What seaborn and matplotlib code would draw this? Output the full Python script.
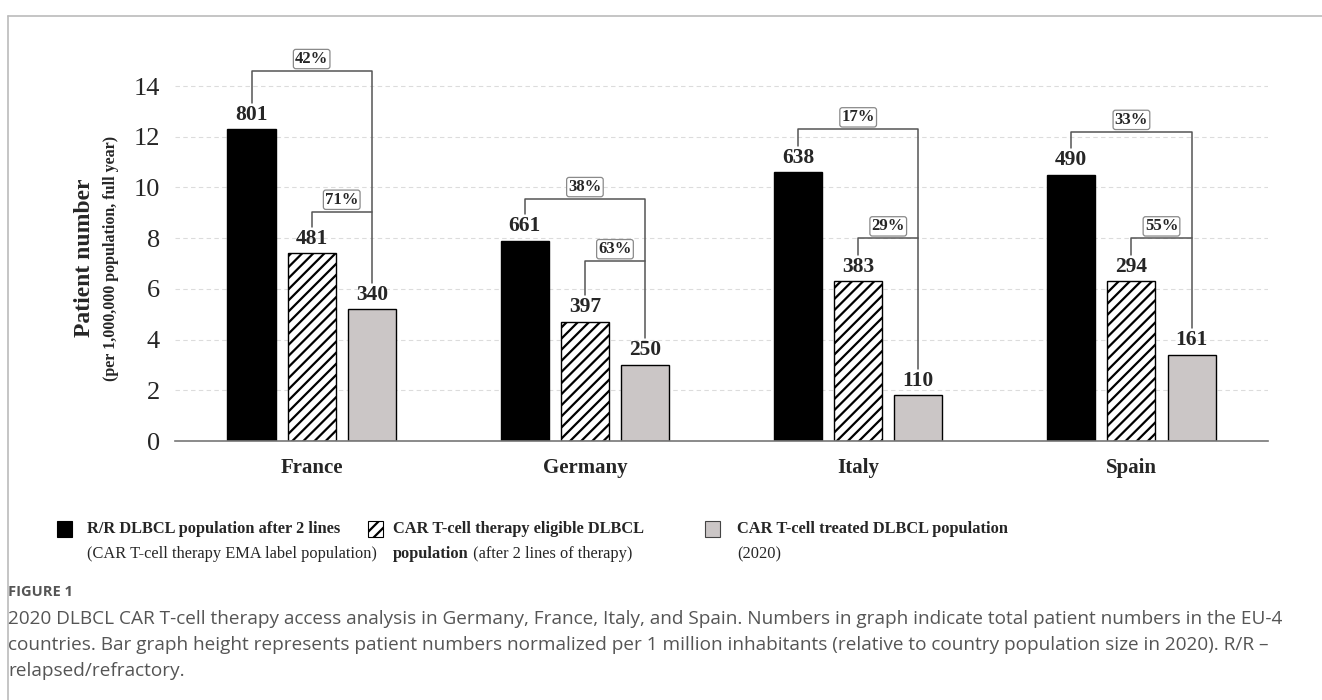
import pandas as pd
import seaborn as sns
import matplotlib.pyplot as plt
from matplotlib.patches import Rectangle
from matplotlib.lines import Line2D

# Values (bar height = patients per 1,000,000 inhabitants)
countries = ["France", "Germany", "Italy", "Spain"]
groups = ["R/R DLBCL after 2 lines", "CAR T-cell eligible", "CAR T-cell treated"]
rr_per_million = [12.3, 7.9, 10.6, 10.5]
eligible_per_million = [7.4, 4.7, 6.3, 6.3]
treated_per_million = [5.2, 3.0, 1.8, 3.4]

# Total patient numbers printed above bars
rr_total = [801, 661, 638, 490]
eligible_total = [481, 397, 383, 294]
treated_total = [340, 250, 110, 161]

# Bracket percentages
pct_treated_of_rr = [42, 38, 17, 33]
pct_treated_of_eligible = [71, 63, 29, 55]

yticks = [0, 2, 4, 6, 8, 10, 12, 14]

df = pd.DataFrame({
    "country": countries * 3,
    "group": [groups[0]] * 4 + [groups[1]] * 4 + [groups[2]] * 4,
    "value": rr_per_million + eligible_per_million + treated_per_million,
})
totals = [rr_total, eligible_total, treated_total]

sns.set_style("white")
plt.rcParams["font.family"] = ["Liberation Serif", "DejaVu Serif"]
plt.rcParams["hatch.linewidth"] = 1.6

fig = plt.figure(figsize=(13.22, 7.0), dpi=100)
ax = fig.add_axes([0.1324, 0.37, 0.8268, 0.5614])

sns.barplot(data=df, x="country", y="value", hue="group", order=countries,
            hue_order=groups, palette=["black", "white", "#cbc6c6"],
            saturation=1, width=0.66, gap=0.2, edgecolor="black",
            linewidth=1.0, legend=False, ax=ax)

for bar in ax.containers[1]:
    bar.set_hatch("///")

ax.set_xlim(-0.5, 3.5)
ax.set_ylim(0, 15.5)
ax.set_yticks(yticks)
ax.set_yticklabels([str(t) for t in yticks], fontsize=19)
ax.set_xlabel("")
ax.set_ylabel("")
ax.tick_params(axis="x", length=0, pad=12, labelsize=15)
ax.tick_params(axis="y", length=0, pad=11)
for lab in ax.get_xticklabels():
    lab.set_fontweight("bold")

for s in ["top", "right", "left"]:
    ax.spines[s].set_visible(False)
ax.spines["bottom"].set_color("#777777")
ax.spines["bottom"].set_linewidth(1.2)
ax.set_axisbelow(True)
for t in yticks[1:]:
    ax.axhline(t, color="#dcdcdc", lw=0.8, ls=(0, (4, 3)), zorder=0)

# value labels above bars
centers = []
heights = []
for k, cont in enumerate(ax.containers):
    cx = [p.get_x() + p.get_width() / 2 for p in cont]
    hh = [p.get_height() for p in cont]
    centers.append(cx)
    heights.append(hh)
    for x, h, n in zip(cx, hh, totals[k]):
        ax.text(x, h + 0.18, str(n), ha="center", va="bottom",
                fontsize=15.5, fontweight="bold")

# brackets (level above the taller bar of each pair)
outer_lift = [2.3, 1.65, 1.7, 1.7]
inner_lift = [1.65, 2.4, 1.7, 1.7]
box = dict(boxstyle="round,pad=0.1,rounding_size=0.15", fc="white",
           ec="#8a8a8a", lw=0.9)
for i in range(len(countries)):
    xa, xb, xc = centers[0][i], centers[1][i], centers[2][i]
    ha, hb, hc = heights[0][i], heights[1][i], heights[2][i]
    yo = ha + outer_lift[i]
    yi = hb + inner_lift[i]
    ax.plot([xa, xa, xc, xc], [ha + 1.05, yo, yo, hc + 1.05], color="#555555",
            lw=1.1, clip_on=False, zorder=3)
    ax.plot([xb, xb, xc], [hb + 1.05, yi, yi], color="#555555", lw=1.1,
            clip_on=False, zorder=3)
    ax.text((xa + xc) / 2, yo + 0.15, f"{pct_treated_of_rr[i]}%", ha="center",
            va="bottom", fontsize=12, fontweight="bold", bbox=box, zorder=4)
    ax.text((xb + xc) / 2, yi + 0.15, f"{pct_treated_of_eligible[i]}%",
            ha="center", va="bottom", fontsize=12, fontweight="bold",
            bbox=box, zorder=4)

# y axis title
fig.text(85 / 1322, 1 - 258 / 700, "Patient number", rotation=90,
         ha="center", va="center", fontsize=17, fontweight="bold")
fig.text(111 / 1322, 1 - 258 / 700, "(per 1,000,000 population, full year)",
         rotation=90, ha="center", va="center", fontsize=11.5,
         fontweight="bold")

# legend (built by hand to mix bold and regular text)
W, H = 1322.0, 700.0
renderer = fig.canvas.get_renderer()
legend_items = [
    (57, "black", None),
    (368, "white", "///"),
    (705, "#cbc6c6", None),
]
for x0, fc, hatch in legend_items:
    fig.patches.append(Rectangle((x0 / W, 1 - 537 / H), 15 / W, 16 / H,
                                 transform=fig.transFigure, fc=fc,
                                 ec="#444444" if fc == "#cbc6c6" else "black",
                                 lw=0.8, hatch=hatch))
leg_fs = 11.8
y1 = 1 - 529 / H
y2 = 1 - 554 / H
fig.text(87 / W, y1, "R/R DLBCL population after 2 lines", fontsize=leg_fs,
         fontweight="bold", va="center")
fig.text(87 / W, y2, "(CAR T-cell therapy EMA label population)",
         fontsize=leg_fs, va="center")
fig.text(393 / W, y1, "CAR T-cell therapy eligible DLBCL", fontsize=leg_fs,
         fontweight="bold", va="center")
tb = fig.text(393 / W, y2, "population", fontsize=leg_fs, fontweight="bold",
              va="center")
wb = tb.get_window_extent(renderer).width
fig.text((393 + wb) / W, y2, " (after 2 lines of therapy)", fontsize=leg_fs,
         va="center")
fig.text(737 / W, y1, "CAR T-cell treated DLBCL population", fontsize=leg_fs,
         fontweight="bold", va="center")
fig.text(737 / W, y2, "(2020)", fontsize=leg_fs, va="center")

# caption
cap_color = "#555555"
fig.text(8 / W, 1 - 592 / H, "FIGURE 1", fontsize=10.5, fontweight="bold",
         color=cap_color, family="Open Sans", va="center")
caption = [
    "2020 DLBCL CAR T-cell therapy access analysis in Germany, France, Italy, and Spain. "
    "Numbers in graph indicate total patient numbers in the EU-4",
    "countries. Bar graph height represents patient numbers normalized per 1 million "
    "inhabitants (relative to country population size in 2020). R/R \u2013",
    "relapsed/refractory.",
]
probe = fig.text(0, 0, caption[0], fontsize=10, family="Open Sans")
cap_fs = 10 * 1280 / probe.get_window_extent(renderer).width
probe.remove()
for k, line in enumerate(caption):
    fig.text(8 / W, 1 - (619 + 26 * k) / H, line, fontsize=cap_fs,
             color=cap_color, family="Open Sans", va="center")

# outer frame
fig.add_artist(Line2D([8 / W, 1.0], [1 - 16 / H, 1 - 16 / H],
                      transform=fig.transFigure, color="#bbbbbb", lw=1.2))
fig.add_artist(Line2D([8 / W, 8 / W], [0.0, 1 - 16 / H],
                      transform=fig.transFigure, color="#bbbbbb", lw=1.2))

fig.savefig("out.png", dpi=100, facecolor="white")
